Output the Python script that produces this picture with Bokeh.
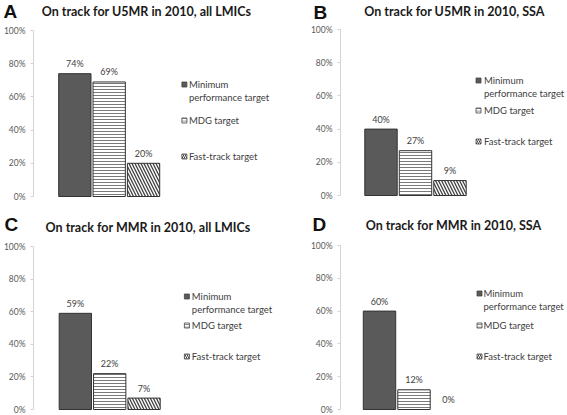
from bokeh.plotting import figure
from bokeh.layouts import row, column
from bokeh.models import Range1d, FixedTicker, NumeralTickFormatter, ColumnDataSource
from bokeh.embed import file_html
from bokeh.resources import INLINE
from bokeh.core.properties import value

# ---------------- data ----------------
panel_letters = ["A", "B", "C", "D"]
titles = [
    "On track for U5MR in 2010, all LMICs",
    "On track for U5MR in 2010, SSA",
    "On track for MMR in 2010, all LMICs",
    "On track for MMR in 2010, SSA",
]
target_labels = ["Minimum\nperformance target", "MDG target", "Fast-track target"]
minimum_target = [0.74, 0.40, 0.59, 0.60]
mdg_target = [0.69, 0.27, 0.22, 0.12]
fast_track_target = [0.20, 0.09, 0.07, 0.00]
y_ticks = [0, 0.2, 0.4, 0.6, 0.8, 1.0]

# ---------------- styles ----------------
FILLS = ["#5a5a5a", "white", "white"]
HATCH = [" ", "-", "\\"]
HATCH_SCALE = [12, 3, 6]
HATCH_COLOR = ["#5a5a5a", "#7a7a7a", "#404040"]
HATCH_WEIGHT = [1, 1, 1.3]
MARKER_HATCH_SCALE = [3, 2.5, 4]
FONT = "Lato"

CELL_W = [283, 284]
CELL_H = [207, 208]
STRIP_H = [24, 33]

# layout in reference pixels, relative to each panel cell
LAYOUT = {
    "A": dict(axis=32, y100=30, y0=196, c0=73.5, pitch=34.5, mx=183.5, tx=188,
              rows=[84, 120, 156], line2=12.5, title=(146, 11), letter=(3, 11)),
    "B": dict(axis=57, y100=29, y0=195, c0=97.5, pitch=34.5, mx=195, tx=200.5,
              rows=[80, 110, 141], line2=12.5, title=(171, 11), letter=(30, 11.5)),
    "C": dict(axis=32, y100=39, y0=202, c0=74, pitch=34.5, mx=186, tx=191,
              rows=[89, 118, 149], line2=13, title=(147.5, 19.5), letter=(4, 16.5)),
    "D": dict(axis=57, y100=38, y0=202, c0=96, pitch=34.5, mx=196, tx=200,
              rows=[86, 118, 149], line2=13, title=(170, 18), letter=(29, 17)),
}


def make_strip(i):
    key = panel_letters[i]
    L = LAYOUT[key]
    W = CELL_W[i % 2]
    S = STRIP_H[i // 2]
    p = figure(width=W, height=S, output_backend="svg", toolbar_location=None,
               x_range=Range1d(0, W), y_range=Range1d(S, 0),
               x_axis_location=None, y_axis_location=None,
               min_border=0, outline_line_color=None,
               background_fill_color="white", border_fill_color="white")
    p.grid.visible = False
    p.text(x=[L["letter"][0]], y=[L["letter"][1]], text=[key],
           text_font=value("Liberation Sans"), text_font_style="bold",
           text_font_size="19px", text_color="#111111",
           text_align="left", text_baseline="middle")
    p.text(x=[L["title"][0]], y=[L["title"][1]], text=[titles[i]],
           text_font=value(FONT), text_font_style="bold",
           text_font_size="12.5px", text_color="#1a1a1a",
           text_align="center", text_baseline="middle")
    return p


def make_panel(i):
    key = panel_letters[i]
    L = LAYOUT[key]
    W = CELL_W[i % 2]
    H = CELL_H[i // 2]
    S = STRIP_H[i // 2]
    span = L["y0"] - L["y100"]

    def xd(rx):
        return (rx - L["c0"]) / L["pitch"]

    def yd(ry):
        return 1 - (ry - L["y100"]) / span

    p = figure(width=W, height=H - S, output_backend="svg", toolbar_location=None,
               x_range=Range1d(xd(L["axis"]), xd(W)),
               y_range=Range1d(yd(H), yd(S)),
               x_axis_location=None, y_axis_location="left",
               min_border=0, min_border_left=L["axis"],
               outline_line_color=None, background_fill_color="white",
               border_fill_color="white")
    p.grid.visible = False

    vals = [minimum_target[i], mdg_target[i], fast_track_target[i]]
    src = ColumnDataSource(dict(
        x=[0, 1, 2], top=vals,
        fill=FILLS, hatch=HATCH, hscale=HATCH_SCALE,
        hcolor=HATCH_COLOR, hweight=HATCH_WEIGHT,
        lalpha=[1.0 if v > 0 else 0.0 for v in vals],
        label=[f"{round(v * 100)}%" for v in vals],
    ))
    p.vbar(x="x", top="top", bottom=0, width=0.94, source=src,
           fill_color="fill", hatch_pattern="hatch", hatch_scale="hscale",
           hatch_color="hcolor", hatch_weight="hweight",
           line_color="#333333", line_width=1, line_alpha="lalpha")
    p.text(x="x", y="top", text="label", source=src,
           text_font=value(FONT), text_font_size="9px", text_color="#404040",
           text_align="center", text_baseline="middle", y_offset=-10)

    # y axis
    ax = p.yaxis[0]
    ax.ticker = FixedTicker(ticks=y_ticks)
    ax.formatter = NumeralTickFormatter(format="0%")
    ax.bounds = (0, 1)
    ax.axis_line_color = "#d4d4d4"
    ax.major_tick_line_color = "#d4d4d4"
    ax.major_tick_out = 3
    ax.major_tick_in = 0
    ax.minor_tick_line_color = None
    ax.major_label_text_font = FONT
    ax.major_label_text_font_size = "8.5px"
    ax.major_label_text_color = "#595959"
    ax.major_label_standoff = 5

    # legend (manual)
    mx = xd(L["mx"])
    tx = xd(L["tx"])
    for k, lab in enumerate(target_labels):
        ry = L["rows"][k]
        p.rect(x=[mx], y=[yd(ry)], width=5, height=5,
               width_units="screen", height_units="screen",
               fill_color=FILLS[k], hatch_pattern=HATCH[k],
               hatch_scale=MARKER_HATCH_SCALE[k],
               hatch_color=HATCH_COLOR[k], hatch_weight=1,
               line_color="#444444", line_width=0.8)
        lines = lab.split("\n")
        p.text(x=[tx] * len(lines),
               y=[yd(ry + j * L["line2"]) for j in range(len(lines))],
               text=lines, text_font=value(FONT), text_font_size="9.5px",
               text_color="#404040", text_align="left", text_baseline="middle")
    return p


strips = [make_strip(i) for i in range(4)]
panels = [make_panel(i) for i in range(4)]
layout = column(
    row(strips[0], strips[1]), row(panels[0], panels[1]),
    row(strips[2], strips[3]), row(panels[2], panels[3]),
)

open("out.html", "w").write(file_html(layout, INLINE))
